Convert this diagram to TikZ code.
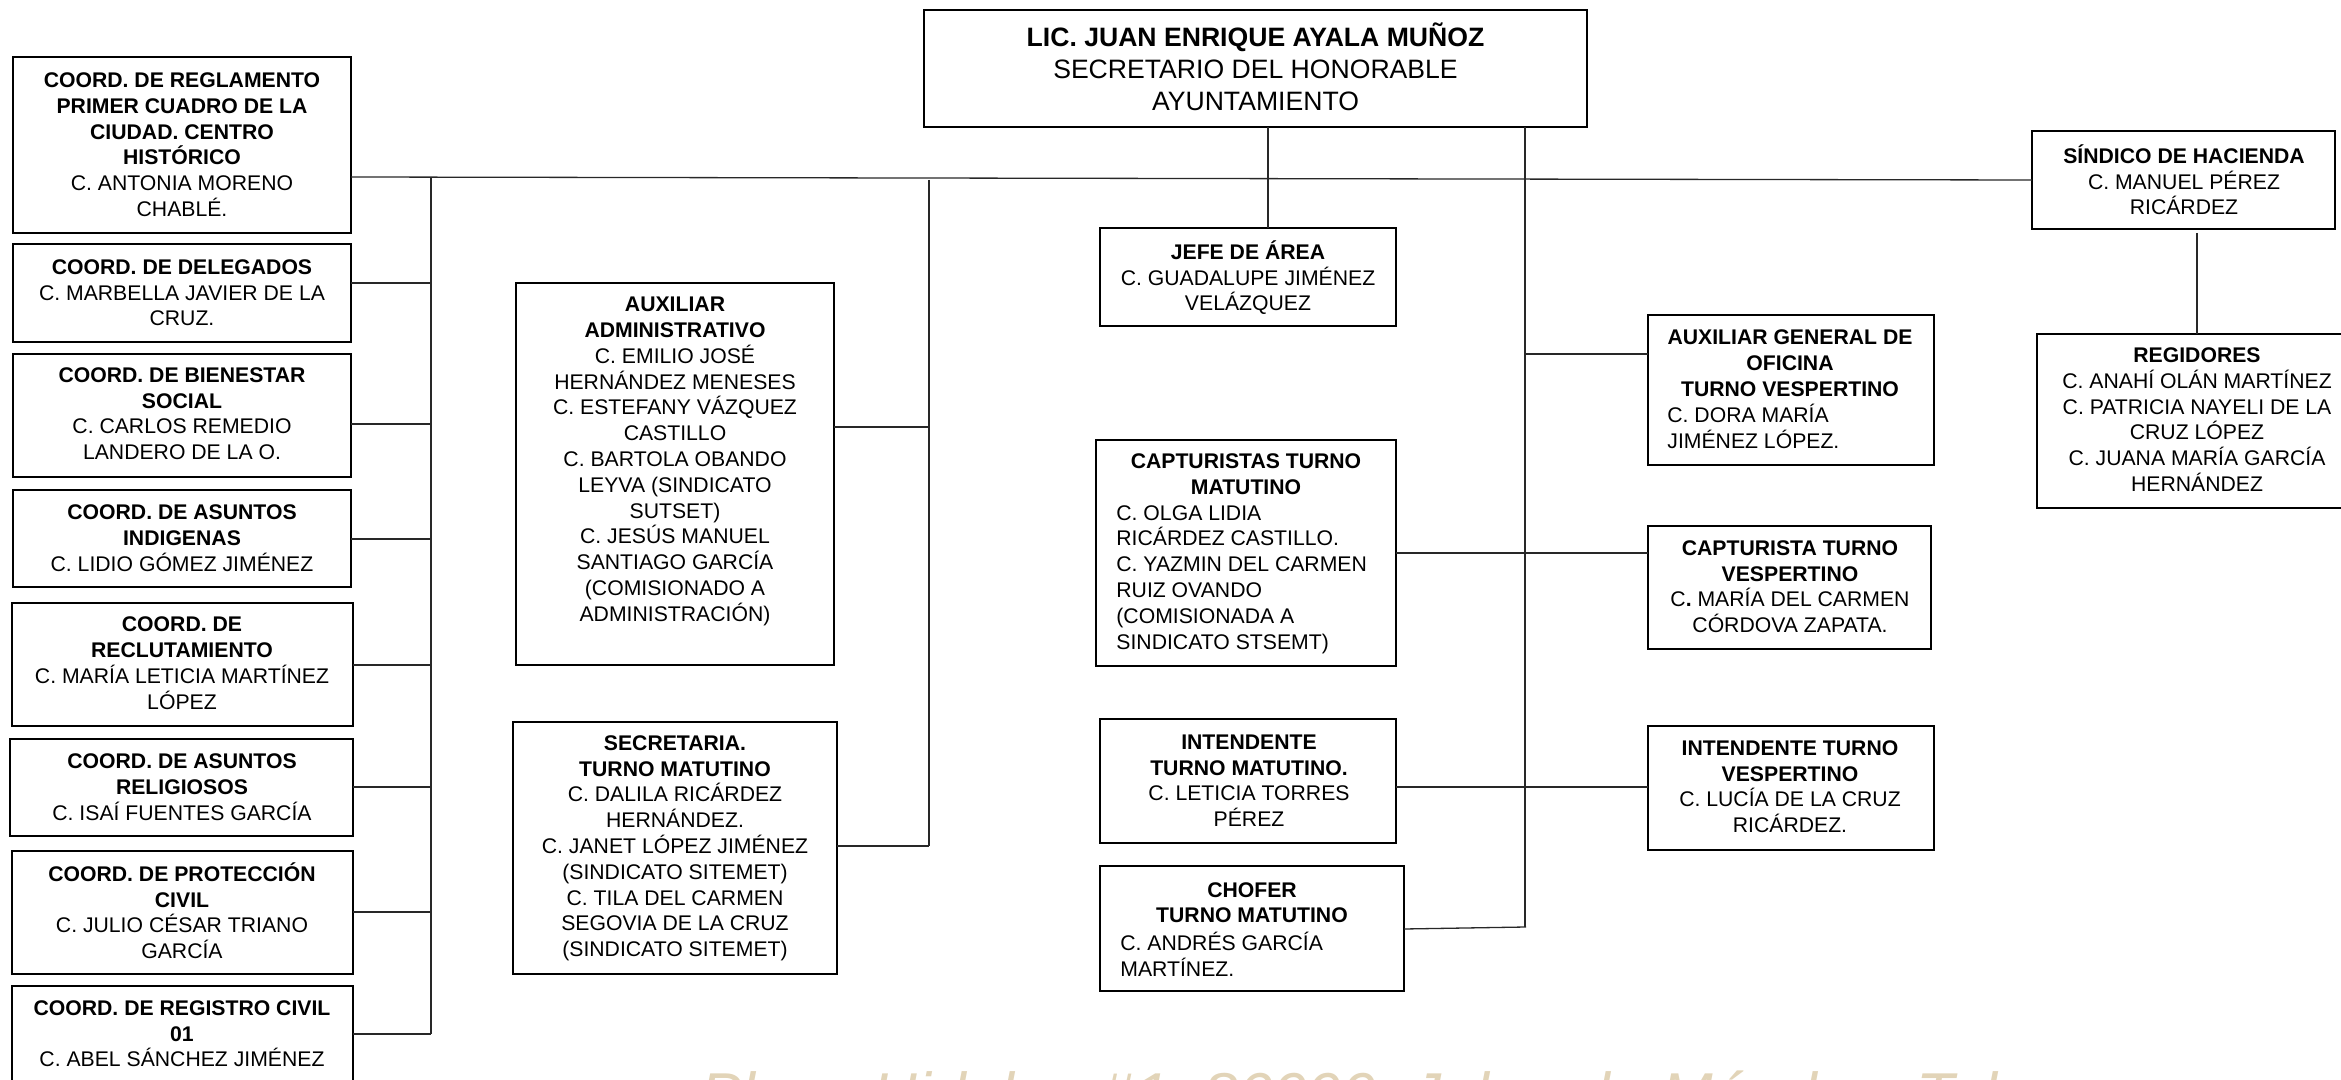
\documentclass[tikz,border=0pt]{standalone}
\usepackage{fontspec}
\setmainfont{Liberation Sans}
\usetikzlibrary{fit}
\definecolor{wmcol}{RGB}{226,212,184}
\definecolor{linkcol}{RGB}{40,40,40}
\begin{document}
\begin{tikzpicture}[x=0.5pt,y=-0.5pt,
  box/.style={draw=black,line width=1.4pt,inner sep=0pt,outer sep=0pt},
  txt/.style={font=\fontsize{10.6}{12.9}\selectfont,align=center,inner sep=0pt,
    execute at begin node=\strut,execute at end node=\strut},
  txtl/.style={txt,align=left,anchor=west},
  bigtxt/.style={txt,font=\fontsize{13.3}{16}\selectfont},
  link/.style={draw=linkcol,line width=0.65pt},
]
\useasboundingbox (0,0) rectangle (2341,1080);

% ---------- boxes ----------
\node[box,fit={(924,10)(1587,127)}] (main) {};
\node[box,fit={(13,57)(351,233)}] (b1) {};
\node[box,fit={(13,244)(351,342)}] (b2) {};
\node[box,fit={(13,354)(351,477)}] (b3) {};
\node[box,fit={(13,490)(351,587)}] (b4) {};
\node[box,fit={(12,603)(353,726)}] (b5) {};
\node[box,fit={(10,739)(353,836)}] (b6) {};
\node[box,fit={(12,851)(353,974)}] (b7) {};
\node[box,fit={(12,986)(353,1100)}] (b8) {};
\node[box,fit={(516,283)(834,665)}] (auxadm) {};
\node[box,fit={(513,722)(837,974)}] (sec) {};
\node[box,fit={(1100,228)(1396,326)}] (jefe) {};
\node[box,fit={(1096,440)(1396,666)}] (capt) {};
\node[box,fit={(1100,719)(1396,843)}] (intm) {};
\node[box,fit={(1100,866)(1404,991)}] (chof) {};
\node[box,fit={(1648,315)(1934,465)}] (auxgen) {};
\node[box,fit={(1648,526)(1931,649)}] (captv) {};
\node[box,fit={(1648,726)(1934,850)}] (intv) {};
\node[box,fit={(2032,131)(2335,229)}] (sind) {};
\node[box,fit={(2037,334)(2357,508)}] (reg) {};

% ---------- texts ----------
\node[bigtxt] (maint) at (1255.5,71) {\textbf{LIC. JUAN ENRIQUE AYALA MUÑOZ}\\SECRETARIO DEL HONORABLE\\AYUNTAMIENTO};
\node[txt] (b1t) at (182,148.5) {\textbf{COORD. DE REGLAMENTO}\\\textbf{PRIMER CUADRO DE LA}\\\textbf{CIUDAD. CENTRO}\\\textbf{HISTÓRICO}\\C. ANTONIA MORENO\\CHABLÉ.};
\node[txt] (b2t) at (182,296.5) {\textbf{COORD. DE DELEGADOS}\\C. MARBELLA JAVIER DE LA\\CRUZ.};
\node[txt] (b3t) at (182,417.5) {\textbf{COORD. DE BIENESTAR}\\\textbf{SOCIAL}\\C. CARLOS REMEDIO\\LANDERO DE LA O.};
\node[txt] (b4t) at (182,542) {\textbf{COORD. DE ASUNTOS}\\\textbf{INDIGENAS}\\C. LIDIO GÓMEZ JIMÉNEZ};
\node[txt] (b5t) at (182,667) {\textbf{COORD. DE}\\\textbf{RECLUTAMIENTO}\\C. MARÍA LETICIA MARTÍNEZ\\LÓPEZ};
\node[txt] (b6t) at (182,791) {\textbf{COORD. DE ASUNTOS}\\\textbf{RELIGIOSOS}\\C. ISAÍ FUENTES GARCÍA};
\node[txt] (b7t) at (182,914.5) {\textbf{COORD. DE PROTECCIÓN}\\\textbf{CIVIL}\\C. JULIO CÉSAR TRIANO\\GARCÍA};
\node[txt] (b8t) at (182,1037.5) {\textbf{COORD. DE REGISTRO CIVIL}\\\textbf{01}\\C. ABEL SÁNCHEZ JIMÉNEZ};
\node[txt] (auxadmt) at (675,463) {\textbf{AUXILIAR}\\\textbf{ADMINISTRATIVO}\\C. EMILIO JOSÉ\\HERNÁNDEZ MENESES\\C. ESTEFANY VÁZQUEZ\\CASTILLO\\C. BARTOLA OBANDO\\LEYVA (SINDICATO\\SUTSET)\\C. JESÚS MANUEL\\SANTIAGO GARCÍA\\(COMISIONADO A\\ADMINISTRACIÓN)};
\node[txt] (sect) at (675,850) {\textbf{SECRETARIA.}\\\textbf{TURNO MATUTINO}\\C. DALILA RICÁRDEZ\\HERNÁNDEZ.\\C. JANET LÓPEZ JIMÉNEZ\\(SINDICATO SITEMET)\\C. TILA DEL CARMEN\\SEGOVIA DE LA CRUZ\\(SINDICATO SITEMET)};
\node[txt] (jefet) at (1248,279.5) {\textbf{JEFE DE ÁREA}\\C. GUADALUPE JIMÉNEZ\\VELÁZQUEZ};
\node[txt] (captt) at (1246,478) {\textbf{CAPTURISTAS TURNO}\\\textbf{MATUTINO}};
\node[txtl] (captn) at (1116,581) {C. OLGA LIDIA\\RICÁRDEZ CASTILLO.\\C. YAZMIN DEL CARMEN\\RUIZ OVANDO\\(COMISIONADA A\\SINDICATO STSEMT)};
\node[txt] (intmt) at (1249,784.5) {\textbf{INTENDENTE}\\\textbf{TURNO MATUTINO.}\\C. LETICIA TORRES\\PÉREZ};
\node[txt] (choft) at (1252,906.5) {\textbf{CHOFER}\\\textbf{TURNO MATUTINO}};
\node[txtl] (chofn) at (1120,958.5) {C. ANDRÉS GARCÍA\\MARTÍNEZ.};
\node[txt] (auxgent) at (1790,367) {\textbf{AUXILIAR GENERAL DE}\\\textbf{OFICINA}\\\textbf{TURNO VESPERTINO}};
\node[txtl] (auxgenn) at (1667,430.5) {C. DORA MARÍA\\JIMÉNEZ LÓPEZ.};
\node[txt] (captvt) at (1790,590.5) {\textbf{CAPTURISTA TURNO}\\\textbf{VESPERTINO}\\C\textbf{.} MARÍA DEL CARMEN\\CÓRDOVA ZAPATA.};
\node[txt] (intvt) at (1790,790.5) {\textbf{INTENDENTE TURNO}\\\textbf{VESPERTINO}\\C. LUCÍA DE LA CRUZ\\RICÁRDEZ.};
\node[txt] (sindt) at (2184,183.5) {\textbf{SÍNDICO DE HACIENDA}\\C. MANUEL PÉREZ\\RICÁRDEZ};
\node[txt] (regt) at (2197,423.5) {\textbf{REGIDORES}\\C. ANAHÍ OLÁN MARTÍNEZ\\C. PATRICIA NAYELI DE LA\\CRUZ LÓPEZ\\C. JUANA MARÍA GARCÍA\\HERNÁNDEZ};

% ---------- connector coordinates ----------
\coordinate (busL) at (0,177);
\coordinate (busR) at (0,180);
\coordinate (ltop) at (431,177);
\coordinate (lbot) at (431,1034);
\coordinate (mtop) at (929,180);
\coordinate (mbot) at (929,846);
\coordinate (jx) at (1268,0);
\coordinate (rx) at (1525,0);
\coordinate (rbot) at (1526,927);
\coordinate (sx) at (2197,0);
\coordinate (j2) at (431,283);
\coordinate (j3) at (431,424);
\coordinate (j4) at (431,539);
\coordinate (j5) at (431,665);
\coordinate (j6) at (431,787);
\coordinate (j7) at (431,912);
\coordinate (jaux) at (929,427);
\coordinate (jag) at (1525,354);
\coordinate (cy) at (0,553);
\coordinate (iy) at (0,787);
\coordinate (chy) at (0,929);

% ---------- connectors ----------
\draw[link] (b1.east |- busL) -- (sind.west |- busR);
\draw[link] (ltop) -- (lbot);
\draw[link] (b2.east |- j2) -- (j2);
\draw[link] (b3.east |- j3) -- (j3);
\draw[link] (b4.east |- j4) -- (j4);
\draw[link] (b5.east |- j5) -- (j5);
\draw[link] (b6.east |- j6) -- (j6);
\draw[link] (b7.east |- j7) -- (j7);
\draw[link] (b8.east |- lbot) -- (lbot);
\draw[link] (mtop) -- (mbot);
\draw[link] (auxadm.east |- jaux) -- (jaux);
\draw[link] (sec.east |- mbot) -- (mbot);
\draw[link] (main.south -| jx) -- (jefe.north -| jx);
\draw[link] (main.south -| rx) -- (rx |- rbot);
\draw[link] (jag) -- (auxgen.west |- jag);
\draw[link] (capt.east |- cy) -- (captv.west |- cy);
\draw[link] (intm.east |- iy) -- (intv.west |- iy);
\draw[link] (chof.east |- chy) -- (rbot);
\draw[link] ([yshift=-2pt]sind.south -| sx) -- (reg.north -| sx);

% ---------- watermark ----------
\node[font=\fontsize{31}{31}\selectfont\itshape,text=wmcol,anchor=base west,inner sep=0pt] (wm) at (700,1116) {Plaza Hidalgo \#1, 86000, Jalpa de Méndez, Tab.};
\end{tikzpicture}
\end{document}
